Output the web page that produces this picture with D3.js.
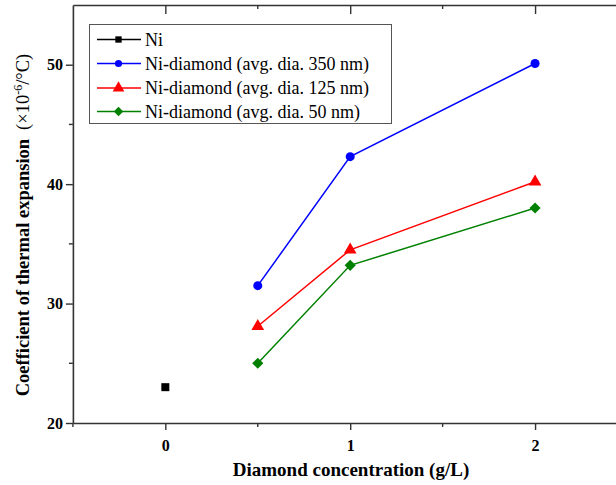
<!DOCTYPE html>
<html lang="en">
<head>
<meta charset="UTF-8">
<script src="https://d3js.org/d3.v7.min.js"></script>
<title>Coefficient of thermal expansion</title>
<style>
  body { margin: 0; background: #fff; }
  svg { display: block; }
  svg text { font-family: "Liberation Serif", "DejaVu Serif", serif; }
</style>
</head>
<body>
<div id="chart"></div>
<script>
// data
var seriesNames = ["Ni", "Ni-diamond (avg. dia. 350 nm)", "Ni-diamond (avg. dia. 125 nm)", "Ni-diamond (avg. dia. 50 nm)"];
var niX = [0];
var niY = [23];
var conc = [0.5, 1, 2];
var cte350 = [31.5, 42.3, 50.1];
var cte125 = [28.1, 34.5, 40.2];
var cte50 = [25.0, 33.2, 38.0];
var xTicks = [0, 1, 2];
var yTicks = [20, 30, 40, 50];

var colors = ["#000000", "#0000ff", "#ff0000", "#008000"];
var shapes = ["square", "circle", "triangle", "diamond"];

var width = 616, height = 485;
var serif = "Liberation Serif, DejaVu Serif, serif";

var svg = d3.select("#chart").append("svg")
    .attr("width", width)
    .attr("height", height)
    .attr("font-family", serif);

// scales
var x = d3.scaleLinear().domain([-0.5, 2.5]).range([72.9, 627.5]);
var y = d3.scaleLinear().domain([20, 55]).range([423, 5]);

var axisColor = "#333";

// bottom axis
var bottomAxis = svg.append("g")
    .attr("transform", "translate(0," + y(20) + ")")
    .call(d3.axisBottom(x).tickValues(xTicks).tickSize(7).tickSizeOuter(0).tickFormat(d3.format("d")));
bottomAxis.selectAll(".tick text").attr("dy", "1.1em");
bottomAxis.append("g").selectAll("line")
    .data([-0.5, 0.5, 1.5, 2.5])
    .join("line")
    .attr("x1", function (d) { return x(d); })
    .attr("x2", function (d) { return x(d); })
    .attr("y1", 0).attr("y2", 4);

// top axis (ticks inward)
var topAxis = svg.append("g")
    .attr("transform", "translate(0," + y(55) + ")")
    .call(d3.axisBottom(x).tickValues(xTicks).tickSize(9).tickSizeOuter(0).tickFormat(""));
topAxis.append("g").selectAll("line")
    .data([0.5, 1.5])
    .join("line")
    .attr("x1", function (d) { return x(d); })
    .attr("x2", function (d) { return x(d); })
    .attr("y1", 0).attr("y2", 4);

// left axis
var leftAxis = svg.append("g")
    .attr("transform", "translate(" + x(-0.5) + ",0)")
    .call(d3.axisLeft(y).tickValues(yTicks).tickSize(7).tickSizeOuter(0).tickFormat(d3.format("d")));
leftAxis.append("g").selectAll("line")
    .data([25, 35, 45])
    .join("line")
    .attr("x1", 0).attr("x2", -4)
    .attr("y1", function (d) { return y(d); })
    .attr("y2", function (d) { return y(d); });

[bottomAxis, topAxis, leftAxis].forEach(function (g) {
    g.attr("font-family", serif);
    g.select(".domain").attr("stroke", axisColor).attr("stroke-width", 1.6);
    g.selectAll("line").attr("stroke", axisColor).attr("stroke-width", 1.4);
    g.selectAll(".tick text")
        .attr("fill", "#000")
        .attr("font-size", "16px")
        .attr("font-weight", "bold");
});
leftAxis.selectAll(".tick text").attr("x", -10);

// axis titles
svg.append("text")
    .attr("x", 351)
    .attr("y", 476)
    .attr("text-anchor", "middle")
    .attr("font-size", "19px")
    .attr("font-weight", "bold")
    .text("Diamond concentration (g/L)");

var yTitle = svg.append("text")
    .attr("transform", "translate(29," + 225 + ") rotate(-90)")
    .attr("text-anchor", "middle")
    .attr("font-size", "18.5px");
yTitle.append("tspan").attr("font-weight", "bold").text("Coefficient of thermal expansion");
yTitle.append("tspan").attr("dx", 9).text("(\u00d710");
yTitle.append("tspan").attr("dy", -7).attr("font-size", "12px").text("-6");
yTitle.append("tspan").attr("dy", 7).text("/\u00b0C)");

// marker helper
function markerPath(shape, size) {
    var t = { square: d3.symbolSquare, circle: d3.symbolCircle, triangle: d3.symbolTriangle, diamond: d3.symbolSquare }[shape];
    return d3.symbol().type(t).size(size)();
}
function drawMarker(g, shape, color, cx, cy, size) {
    g.append("path")
        .attr("d", markerPath(shape, size))
        .attr("fill", color)
        .attr("transform", "translate(" + cx + "," + cy + ")" + (shape === "diamond" ? " rotate(45)" : ""));
}

var line = d3.line()
    .x(function (d) { return x(d[0]); })
    .y(function (d) { return y(d[1]); });

var allSeries = [
    d3.zip(niX, niY),
    d3.zip(conc, cte350),
    d3.zip(conc, cte125),
    d3.zip(conc, cte50)
];
var sizes = [64, 64, 70, 62];

var plot = svg.append("g");
allSeries.forEach(function (pts, i) {
    plot.append("path")
        .datum(pts)
        .attr("d", line)
        .attr("fill", "none")
        .attr("stroke", colors[i])
        .attr("stroke-width", 1.5);
    pts.forEach(function (p) {
        drawMarker(plot, shapes[i], colors[i], x(p[0]), y(p[1]), sizes[i]);
    });
});

// legend
var legend = svg.append("g");
legend.append("rect")
    .attr("x", 89.5).attr("y", 24.5)
    .attr("width", 302).attr("height", 99)
    .attr("fill", "#fff")
    .attr("stroke", "#555")
    .attr("stroke-width", 1);
var rowY = [39.5, 63.5, 88, 111.5];
seriesNames.forEach(function (name, i) {
    legend.append("line")
        .attr("x1", 97).attr("x2", 141)
        .attr("y1", rowY[i]).attr("y2", rowY[i])
        .attr("stroke", colors[i])
        .attr("stroke-width", 1.5);
    drawMarker(legend, shapes[i], colors[i], 118.5, rowY[i], [40, 40, 60, 44][i]);
    legend.append("text")
        .attr("x", 145)
        .attr("y", rowY[i])
        .attr("dy", "0.35em")
        .attr("font-size", "18px")
        .text(name);
});
</script>
</body>
</html>
